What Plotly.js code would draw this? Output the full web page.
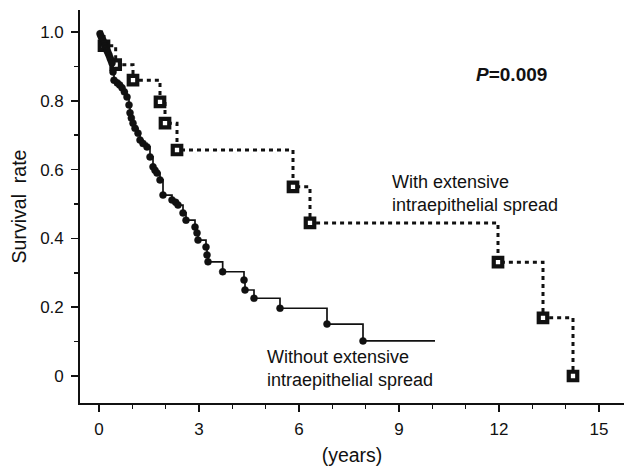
<!DOCTYPE html>
<html>
<head>
<meta charset="utf-8">
<script src="https://cdn.plot.ly/plotly-3.0.1.min.js"></script>
<style>html,body{margin:0;padding:0;background:#fff;}#chart{width:624px;height:467px;}</style>
</head>
<body>
<div id="chart"></div>
<script>
// Without extensive intraepithelial spread (solid)
const withoutYears = [0, 0.03, 0.06, 0.09, 0.12, 0.15, 0.18, 0.21, 0.24, 0.27, 0.30, 0.33, 0.36, 0.39, 0.42, 0.45, 0.55, 0.62, 0.69, 0.76, 0.84, 0.90, 0.93, 0.97, 1.02, 1.08, 1.17, 1.23, 1.32, 1.44, 1.53, 1.62, 1.68, 1.74, 1.83, 1.92, 2.19, 2.30, 2.37, 2.52, 2.61, 2.88, 2.94, 2.97, 3.21, 3.24, 3.27, 3.71, 4.35, 4.38, 4.65, 5.43, 6.84, 7.92, 10.08];
const withoutSurv  = [1.0, 0.995, 0.988, 0.982, 0.975, 0.968, 0.96, 0.953, 0.946, 0.94, 0.933, 0.925, 0.918, 0.91, 0.884, 0.86, 0.852, 0.846, 0.838, 0.826, 0.811, 0.788, 0.765, 0.75, 0.735, 0.72, 0.706, 0.686, 0.676, 0.666, 0.637, 0.608, 0.598, 0.59, 0.57, 0.526, 0.512, 0.505, 0.497, 0.474, 0.453, 0.433, 0.416, 0.395, 0.375, 0.352, 0.332, 0.303, 0.279, 0.25, 0.226, 0.197, 0.151, 0.102, 0.102];

// With extensive intraepithelial spread (dotted, squares)
const withYears = [0, 0.15, 0.50, 1.02, 1.83, 1.98, 2.34, 5.82, 6.33, 11.97, 13.32, 14.22];
const withSurv  = [1.0, 0.96, 0.905, 0.86, 0.797, 0.735, 0.657, 0.55, 0.445, 0.331, 0.169, 0.0];

const yTickVals = [0, 0.2, 0.4, 0.6, 0.8, 1.0];
const yTickText = ['0', '0.2', '0.4', '0.6', '0.8', '1.0'];
const xTickVals = [0, 3, 6, 9, 12, 15];

const FONT = 'Liberation Sans, Arial, sans-serif';
const INK = '#111111';

const lastW = withoutYears.length - 1;
const withoutSizes = withoutYears.map((_, i) => (i === 0 || i === lastW) ? 0 : 7);
const withSizes = withYears.map((_, i) => i === 0 ? 0 : 8.5);

const traces = [
  {
    x: withYears, y: withSurv, type: 'scatter', mode: 'lines+markers',
    line: {shape: 'hv', color: INK, width: 3, dash: '4px,4px'},
    marker: {symbol: 'square', size: withSizes, opacity: 1, color: '#ffffff', line: {color: INK, width: 4.2}},
    hoverinfo: 'skip', showlegend: false
  },
  {
    x: withoutYears, y: withoutSurv, type: 'scatter', mode: 'lines+markers',
    line: {shape: 'hv', color: INK, width: 1.7},
    marker: {symbol: 'circle', size: withoutSizes, opacity: 1, color: INK, line: {color: INK, width: 0.5}},
    hoverinfo: 'skip', showlegend: false
  }
];

const layout = {
  width: 624, height: 467,
  margin: {l: 80, r: 0, t: 10, b: 64, pad: 0},
  paper_bgcolor: '#ffffff', plot_bgcolor: '#ffffff',
  font: {family: FONT, size: 17, color: INK},
  showlegend: false,
  xaxis: {
    range: [-0.57, 15.75], tickmode: 'array', tickvals: xTickVals,
    ticks: 'outside', ticklen: 7, tickwidth: 1.5, tickcolor: INK,
    showline: true, linecolor: INK, linewidth: 1.8, showgrid: false, zeroline: false,
    tickfont: {family: FONT, size: 17, color: INK}, ticklabelstandoff: 3,
    minor: {tickmode: 'linear', tick0: 0, dtick: 1, ticks: 'outside', ticklen: 4, tickwidth: 1.5, tickcolor: INK, showgrid: false},
    title: {text: '(years)', font: {family: FONT, size: 19.5, color: INK}, standoff: 10}
  },
  yaxis: {
    range: [-0.0785, 1.064], tickmode: 'array', tickvals: yTickVals, ticktext: yTickText,
    ticks: 'outside', ticklen: 7, tickwidth: 1.5, tickcolor: INK,
    showline: true, linecolor: INK, linewidth: 1.8, showgrid: false, zeroline: false,
    tickfont: {family: FONT, size: 17, color: INK}, ticklabelstandoff: 4,
    minor: {tickmode: 'linear', tick0: 0, dtick: 0.1, ticks: 'outside', ticklen: 4, tickwidth: 1.5, tickcolor: INK, showgrid: false},
    title: {text: 'Survival  rate', font: {family: FONT, size: 19.5, color: INK}, standoff: 8}
  },
  annotations: [
    {xref: 'paper', yref: 'paper', x: 0.724, y: 0.835, xanchor: 'left', yanchor: 'middle', showarrow: false,
     text: '<b><i>P</i>=0.009</b>', font: {family: FONT, size: 19, color: INK}},
    {xref: 'x', yref: 'y', x: 8.72, y: 0.53, xanchor: 'left', yanchor: 'middle', showarrow: false, align: 'left',
     text: 'With extensive<br>intraepithelial spread', font: {family: FONT, size: 18, color: INK}},
    {xref: 'x', yref: 'y', x: 4.98, y: 0.022, xanchor: 'left', yanchor: 'middle', showarrow: false, align: 'left',
     text: 'Without extensive<br>intraepithelial spread', font: {family: FONT, size: 18, color: INK}}
  ]
};

Plotly.newPlot('chart', traces, layout, {staticPlot: true, displayModeBar: false});
</script>
</body>
</html>
